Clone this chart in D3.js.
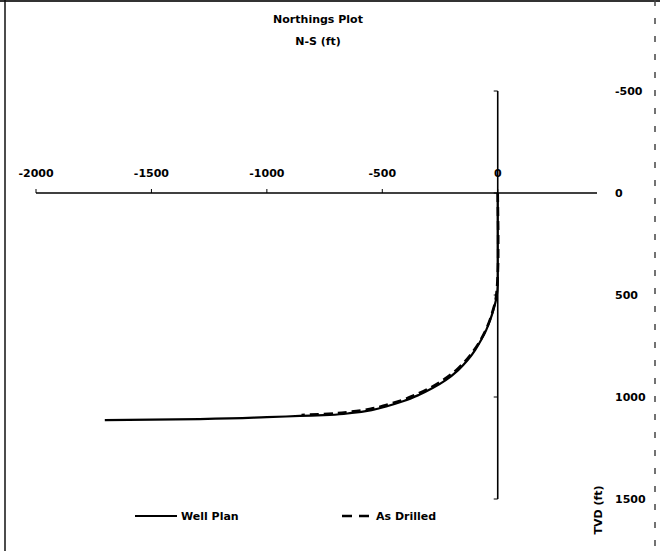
<!DOCTYPE html>
<html><head><meta charset="utf-8">
<script src="https://cdn.jsdelivr.net/npm/d3@7/dist/d3.min.js"></script>
<style>body{margin:0;background:#fff}svg{display:block}text{font-family:"DejaVu Sans",sans-serif;font-weight:bold;fill:#000}</style>
</head><body>
<script>
// Data (N-S offset in ft, TVD in ft)
const planNS  = [0, 0, 0, -5, -19, -33, -50, -72, -98, -130, -171, -225, -282, -342, -407, -476, -546, -632, -728, -858, -1000, -1291, -1702];
const planTVD = [0, 250, 450, 510, 574, 623, 672, 721, 770, 819, 868, 917, 956, 990, 1020, 1044, 1064, 1078, 1088, 1093, 1099, 1108, 1113];
const drillNS  = [0, 1, 2, 2, 0, -3, -8, -20, -34, -51, -73, -100, -132, -173, -228, -285, -346, -411, -480, -550, -636, -732, -850];
const drillTVD = [0, 100, 200, 300, 400, 460, 515, 572, 622, 670, 718, 766, 813, 861, 910, 950, 984, 1014, 1038, 1058, 1072, 1082, 1088];
const xTicks = [-2000, -1500, -1000, -500, 0];
const yTicks = [-500, 0, 500, 1000, 1500];
const xDomain = [-2000, 430];
const yDomain = [-500, 1500];
const seriesNames = ["Well Plan", "As Drilled"];

const W = 660, H = 551, FS = 11;
const svg = d3.select("body").append("svg").attr("width", W).attr("height", H);

// frame (scan borders)
svg.append("line").attr("x1",0).attr("x2",W).attr("y1",1).attr("y2",1).attr("stroke","#333").attr("stroke-width",2);
svg.append("line").attr("x1",5).attr("x2",5).attr("y1",0).attr("y2",H).attr("stroke","#111").attr("stroke-width",1.5);
svg.append("line").attr("x1",655).attr("x2",655).attr("y1",0).attr("y2",H).attr("stroke","#444").attr("stroke-width",1.5).attr("stroke-dasharray","6,12");

const x = d3.scaleLinear().domain(xDomain).range([36, 597]);
const y = d3.scaleLinear().domain(yDomain).range([91, 499]);

// titles
svg.append("text").attr("x", 318).attr("y", 23).attr("text-anchor","middle").attr("font-size",FS).text("Northings Plot");
svg.append("text").attr("x", 318).attr("y", 45).attr("text-anchor","middle").attr("font-size",FS).text("N-S (ft)");

// x axis at TVD = 0
const gx = svg.append("g").attr("transform", `translate(0,${y(0)})`);
gx.append("line").attr("x1", x(xDomain[0])).attr("x2", x(xDomain[1])).attr("stroke","#000").attr("stroke-width",1.6);
gx.selectAll("line.t").data(xTicks).join("line").attr("class","t")
  .attr("x1", d => x(d)).attr("x2", d => x(d)).attr("y1", 0).attr("y2", -4).attr("stroke","#000").attr("stroke-width",1);
gx.selectAll("text").data(xTicks).join("text")
  .attr("x", d => x(d)).attr("y", -16).attr("text-anchor","middle").attr("font-size",FS)
  .text(d => String(d));

// y axis at N-S = 0
const gy = svg.append("g").attr("transform", `translate(${x(0)},0)`);
gy.append("line").attr("y1", y(yDomain[0])).attr("y2", y(yDomain[1])).attr("stroke","#000").attr("stroke-width",1.6);
gy.selectAll("line.t").data(yTicks).join("line").attr("class","t")
  .attr("x1", 0).attr("x2", -4).attr("y1", d => y(d)).attr("y2", d => y(d)).attr("stroke","#000").attr("stroke-width",1);
svg.selectAll("text.yl").data(yTicks).join("text").attr("class","yl")
  .attr("x", 615).attr("y", d => y(d) + 4).attr("font-size",FS).text(d => String(d));
svg.append("text").attr("transform","translate(602,510) rotate(-90)").attr("text-anchor","middle")
  .attr("font-size",FS).text("TVD (ft)");

// series
const line = d3.line().x(d => x(d[0])).y(d => y(d[1])).curve(d3.curveMonotoneY);
const plan = planNS.map((v,i) => [v, planTVD[i]]);
const drill = drillNS.map((v,i) => [v, drillTVD[i]]);
svg.append("path").datum(plan).attr("d", line).attr("fill","none").attr("stroke","#000").attr("stroke-width",2.2);
svg.append("path").datum(drill).attr("d", line).attr("fill","none").attr("stroke","#000").attr("stroke-width",2.6).attr("stroke-dasharray","9,5");

// legend
const lg = svg.append("g");
lg.append("line").attr("x1",135).attr("x2",177).attr("y1",516).attr("y2",516).attr("stroke","#000").attr("stroke-width",2.2);
lg.append("text").attr("x",181).attr("y",520).attr("font-size",FS).text(seriesNames[0]);
lg.append("line").attr("x1",342).attr("x2",370).attr("y1",516).attr("y2",516).attr("stroke","#000").attr("stroke-width",2.6).attr("stroke-dasharray","10,7");
lg.append("text").attr("x",376).attr("y",520).attr("font-size",FS).text(seriesNames[1]);
</script>
</body></html>
